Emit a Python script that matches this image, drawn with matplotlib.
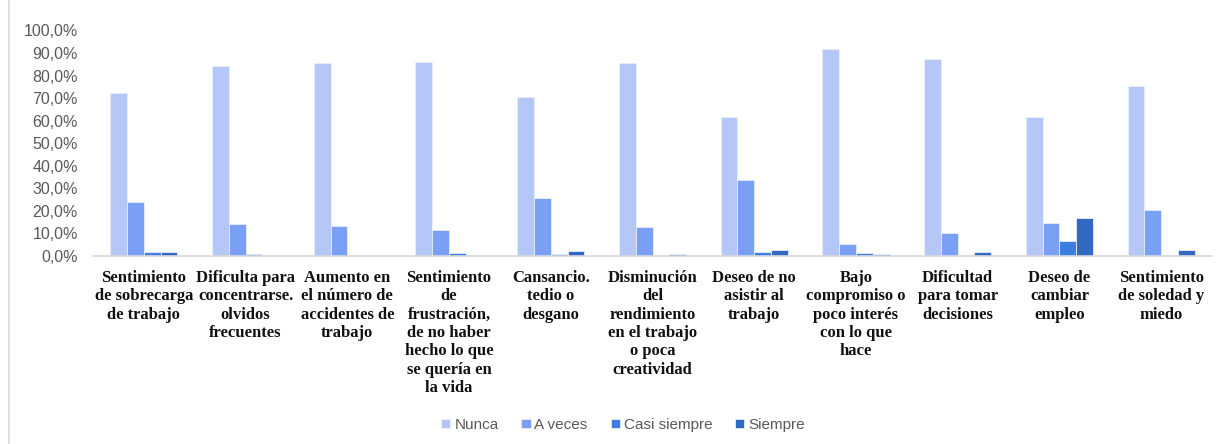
import matplotlib.pyplot as plt
import numpy as np

# Categories (already wrapped like the original)
categorias = [
    "Sentimiento\nde sobrecarga\nde trabajo",
    "Dificulta para\nconcentrarse.\nolvidos\nfrecuentes",
    "Aumento en\nel número de\naccidentes de\ntrabajo",
    "Sentimiento\nde\nfrustración,\nde no haber\nhecho lo que\nse quería en\nla vida",
    "Cansancio.\ntedio o\ndesgano",
    "Disminución\ndel\nrendimiento\nen el trabajo\no poca\ncreatividad",
    "Deseo de no\nasistir al\ntrabajo",
    "Bajo\ncompromiso o\npoco interés\ncon lo que\nhace",
    "Dificultad\npara tomar\ndecisiones",
    "Deseo de\ncambiar\nempleo",
    "Sentimiento\nde soledad y\nmiedo",
]

# Values (%)
nunca = [72.1, 84.1, 85.6, 86.0, 70.4, 85.6, 61.6, 91.8, 87.2, 61.6, 75.4]
a_veces = [23.8, 14.2, 13.2, 11.5, 25.6, 12.7, 33.6, 5.2, 10.0, 14.6, 20.5]
casi_siempre = [1.8, 0.9, 0.0, 1.3, 0.9, 0.0, 1.6, 1.3, 0.4, 6.5, 0.4]
siempre = [1.8, 0.0, 0.0, 0.4, 2.2, 0.9, 2.7, 0.9, 1.8, 16.7, 2.5]

series = ["Nunca", "A veces", "Casi siempre", "Siempre"]
colores = ["#b4c7f7", "#7aa0f5", "#3b7de0", "#3267c2"]

fig = plt.figure(figsize=(12.2, 4.44), dpi=100)
ax = fig.add_axes([93 / 1220, 1 - 256 / 444, (1212 - 93) / 1220, (256 - 30.5) / 444])

x = np.arange(len(categorias))
ancho = 0.165
datos = [nunca, a_veces, casi_siempre, siempre]
for i, (vals, nombre, col) in enumerate(zip(datos, series, colores)):
    ax.bar(x + (i - 1.5) * ancho, vals, width=ancho, color=col, label=nombre,
           edgecolor="#e8eefc", linewidth=0.6)

ax.set_xlim(-0.5, len(categorias) - 0.5)
ax.set_ylim(0, 100)
ax.set_yticks(np.arange(0, 101, 10))
ax.set_yticklabels([f"{v},0%" for v in range(0, 101, 10)],
                   fontfamily="Liberation Sans", fontsize=11.5, color="#595959")
ax.tick_params(axis="y", length=0, pad=11)
ax.tick_params(axis="x", length=0, pad=10)
ax.set_xticks(x)
ax.set_xticklabels(categorias, fontfamily="Liberation Serif", fontweight="bold",
                   fontsize=12, color="#111111", linespacing=1.2, va="top")

for s in ["top", "right", "left"]:
    ax.spines[s].set_visible(False)
ax.spines["bottom"].set_color("#d9d9d9")
ax.spines["bottom"].set_linewidth(1.2)

# left border of the chart area
fig.add_artist(plt.Line2D([9 / 1220, 9 / 1220], [0, 1], color="#d9d9d9", linewidth=1.2))

leg = fig.legend(loc="center", bbox_to_anchor=(623 / 1220, 1 - 425 / 444), ncol=4,
                 frameon=False, prop={"family": "Liberation Sans", "size": 11},
                 handlelength=0.6, handleheight=0.6, handletextpad=0.25, columnspacing=1.5)
for t in leg.get_texts():
    t.set_color("#595959")

fig.savefig("out.png", dpi=100)
